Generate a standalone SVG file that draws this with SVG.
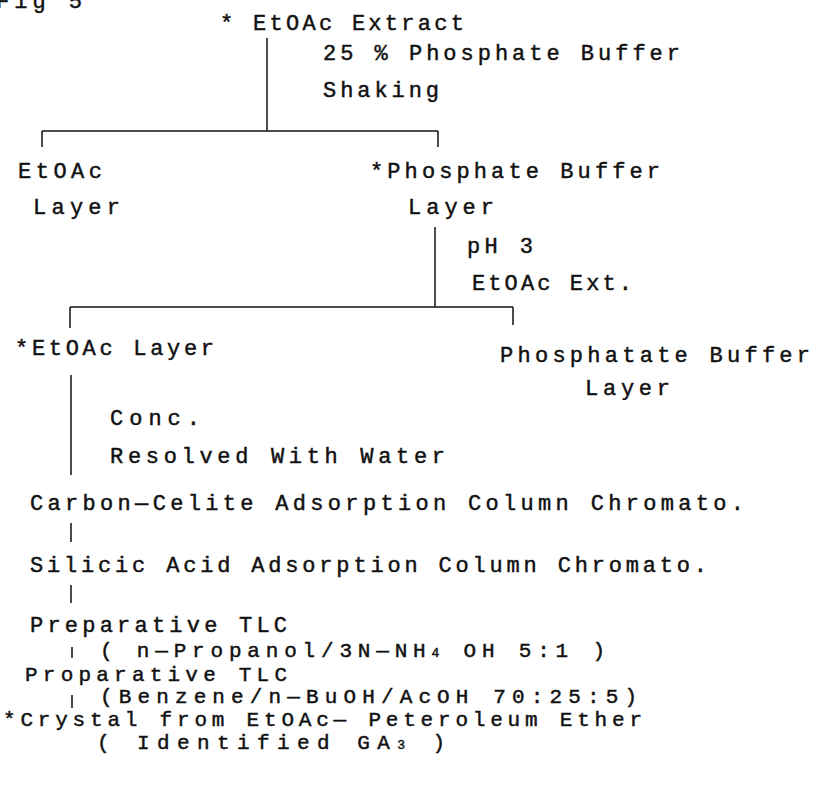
<svg xmlns="http://www.w3.org/2000/svg" width="813" height="790" viewBox="0 0 813 790">
<style>
text{font-family:"Liberation Mono","Courier New",monospace;font-size:22px;fill:#111;stroke:#111;stroke-width:0.45}
.t{font-size:21px}
.c line{stroke:#111;stroke-width:1.5}
.sub{font-size:13px}
</style>
<rect width="813" height="790" fill="#fff"/>
<g id="fig"><text x="-4" y="8" textLength="86" lengthAdjust="spacing">Fig 5</text></g>
<g id="n_extract">
<text x="220" y="30" textLength="244" lengthAdjust="spacing">* EtOAc Extract</text>
<text x="323" y="60" textLength="357" lengthAdjust="spacing">25 % Phosphate Buffer</text>
<text x="323" y="97" textLength="116" lengthAdjust="spacing">Shaking</text>
</g>
<g id="n_etoac1">
<text x="18" y="178" textLength="84" lengthAdjust="spacing">EtOAc</text>
<text x="33" y="214" textLength="87" lengthAdjust="spacing">Layer</text>
</g>
<g id="n_phos">
<text x="370" y="178" textLength="290" lengthAdjust="spacing">*Phosphate Buffer</text>
<text x="408" y="214" textLength="86" lengthAdjust="spacing">Layer</text>
<text x="467" y="253" textLength="66" lengthAdjust="spacing">pH 3</text>
<text x="472" y="290" textLength="160" lengthAdjust="spacing">EtOAc Ext.</text>
</g>
<g id="n_etoac2">
<text x="15" y="355" textLength="199" lengthAdjust="spacing">*EtOAc Layer</text>
<text x="110" y="425" textLength="90" lengthAdjust="spacing">Conc.</text>
<text x="110" y="463" textLength="335" lengthAdjust="spacing">Resolved With Water</text>
</g>
<g id="n_phos2">
<text x="500" y="362" textLength="310" lengthAdjust="spacing">Phosphatate Buffer</text>
<text x="585" y="395" textLength="85" lengthAdjust="spacing">Layer</text>
</g>
<g id="n_carbon"><text x="30" y="510" textLength="714" lengthAdjust="spacing">Carbon—Celite Adsorption Column Chromato.</text></g>
<g id="n_silicic"><text x="30" y="572" textLength="677" lengthAdjust="spacing">Silicic Acid Adsorption Column Chromato.</text></g>
<g id="n_tlc1">
<text x="30" y="632" textLength="257" lengthAdjust="spacing">Preparative TLC</text>
<text class="t" x="100" y="657" textLength="505" lengthAdjust="spacing">( n—Propanol/3N—NH<tspan class="sub">4</tspan> OH 5:1 )</text>
</g>
<g id="n_tlc2">
<text class="t" x="25" y="681" textLength="262" lengthAdjust="spacing">Proparative TLC</text>
<text class="t" x="100" y="703" textLength="537" lengthAdjust="spacing">(Benzene/n—BuOH/AcOH 70:25:5)</text>
</g>
<g id="n_crystal">
<text class="t" x="3" y="726" textLength="639" lengthAdjust="spacing">*Crystal from EtOAc— Peteroleum Ether</text>
<text class="t" x="97" y="749" textLength="348" lengthAdjust="spacing">( Identified GA<tspan class="sub">3</tspan> )</text>
</g>
<g id="connectors" class="c">
<line x1="267" y1="38" x2="267" y2="131"/>
<line x1="42" y1="131" x2="438" y2="131"/>
<line x1="42" y1="131" x2="42" y2="147"/>
<line x1="438" y1="131" x2="438" y2="147"/>
<line x1="435" y1="227" x2="435" y2="307"/>
<line x1="70" y1="307" x2="513" y2="307"/>
<line x1="70" y1="307" x2="70" y2="328"/>
<line x1="513" y1="307" x2="513" y2="325"/>
<line x1="71" y1="375" x2="71" y2="475"/>
<line x1="71" y1="523" x2="71" y2="542"/>
<line x1="71" y1="585" x2="71" y2="603"/>
<line x1="72" y1="647" x2="72" y2="658"/>
<line x1="72" y1="695" x2="72" y2="708"/>
</g>
</svg>
